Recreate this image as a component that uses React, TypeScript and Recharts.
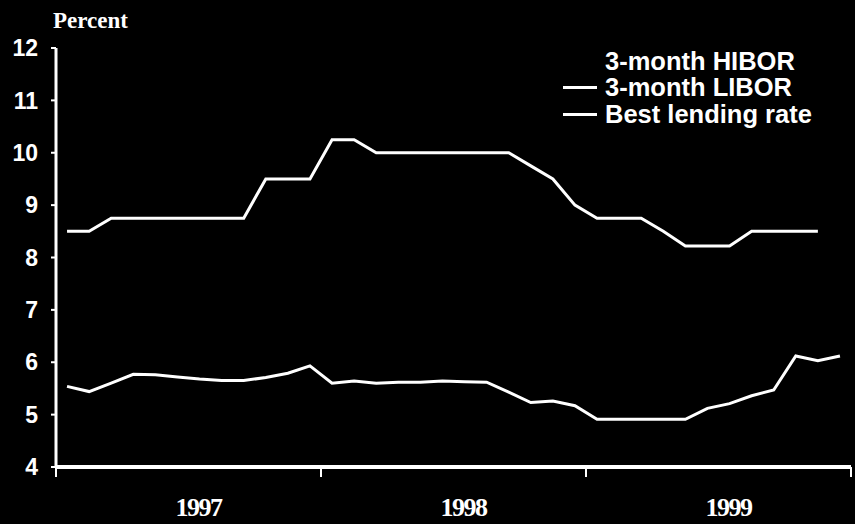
import React from 'react';
import { LineChart, Line, XAxis, YAxis } from 'recharts';

// monthly, Jan 1997 - Dec 1999
const months = [
  'Jan-97', 'Feb-97', 'Mar-97', 'Apr-97', 'May-97', 'Jun-97', 'Jul-97', 'Aug-97', 'Sep-97', 'Oct-97', 'Nov-97', 'Dec-97',
  'Jan-98', 'Feb-98', 'Mar-98', 'Apr-98', 'May-98', 'Jun-98', 'Jul-98', 'Aug-98', 'Sep-98', 'Oct-98', 'Nov-98', 'Dec-98',
  'Jan-99', 'Feb-99', 'Mar-99', 'Apr-99', 'May-99', 'Jun-99', 'Jul-99', 'Aug-99', 'Sep-99', 'Oct-99', 'Nov-99', 'Dec-99',
];

const bestLending = [
  8.5, 8.5, 8.75, 8.75, 8.75, 8.75, 8.75, 8.75, 8.75, 9.5, 9.5, 9.5,
  10.25, 10.25, 10.0, 10.0, 10.0, 10.0, 10.0, 10.0, 10.0, 9.75, 9.5, 9.0,
  8.75, 8.75, 8.75, 8.5, 8.22, 8.22, 8.22, 8.5, 8.5, 8.5, 8.5, null,
];

const libor = [
  5.54, 5.44, 5.6, 5.77, 5.76, 5.72, 5.68, 5.65, 5.65, 5.71, 5.79, 5.93,
  5.6, 5.64, 5.6, 5.62, 5.62, 5.64, 5.63, 5.62, 5.43, 5.23, 5.26, 5.17,
  4.91, 4.91, 4.91, 4.91, 4.91, 5.12, 5.21, 5.36, 5.47, 6.12, 6.03, 6.12,
];

const years = ['1997', '1998', '1999'];
const yTicks = [4, 5, 6, 7, 8, 9, 10, 11, 12];
const xTicks = [0, 6, 12, 18, 24, 30, 36];

const legendItems = [
  { name: '3-month HIBOR', line: false },
  { name: '3-month LIBOR', line: true },
  { name: 'Best lending rate', line: true },
];

const data = months.map((m, i) => ({
  month: m,
  t: i + 0.5,
  lending: bestLending[i],
  libor: libor[i],
}));

const YearTick = (props: any) => {
  const { x, y, payload } = props;
  const v = payload.value as number;
  if (v % 12 === 0) {
    return <line x1={x} x2={x} y1={y} y2={y + 10} stroke="#fff" strokeWidth={2} />;
  }
  return (
    <text
      x={x + 10}
      y={y + 49}
      textAnchor="middle"
      fill="#fff"
      fontFamily="'Liberation Serif', serif"
      fontWeight="bold"
      fontSize={26}
      letterSpacing={-1.5}
    >
      {years[(v - 6) / 12]}
    </text>
  );
};

export default function App() {
  return (
    <div style={{ position: 'absolute', left: 0, top: 0, width: 855, height: 524, background: '#000' }}>
      <LineChart width={855} height={524} data={data} margin={{ top: 48, right: 4, left: 0, bottom: 0 }}>
        <XAxis
          dataKey="t"
          type="number"
          domain={[0, 36]}
          ticks={xTicks}
          interval={0}
          height={57}
          axisLine={{ stroke: '#fff', strokeWidth: 4 }}
          tickLine={false}
          tickSize={0}
          tickMargin={0}
          tick={<YearTick />}
        />
        <YAxis
          domain={[4, 12]}
          ticks={yTicks}
          interval={0}
          width={56}
          axisLine={{ stroke: '#fff', strokeWidth: 3 }}
          tickLine={{ stroke: '#fff', strokeWidth: 2 }}
          tickSize={5}
          tickMargin={13}
          tick={{ fill: '#fff', fontFamily: "'Liberation Sans', Arial, sans-serif", fontWeight: 'bold', fontSize: 23 }}
          label={{
            content: () => (
              <text x={53} y={28} fill="#fff" fontFamily="'Liberation Serif', serif" fontWeight="bold" fontSize={23}>
                Percent
              </text>
            ),
          }}
        />
        <Line type="linear" dataKey="lending" name="Best lending rate" stroke="#fff" strokeWidth={3} dot={false} isAnimationActive={false} />
        <Line type="linear" dataKey="libor" name="3-month LIBOR" stroke="#fff" strokeWidth={3} dot={false} isAnimationActive={false} />
      </LineChart>
      <div
        style={{
          position: 'absolute',
          left: 563,
          top: 48,
          fontFamily: "'Liberation Sans', Arial, sans-serif",
          fontWeight: 'bold',
          fontSize: 25.5,
          color: '#fff',
        }}
      >
        {legendItems.map((it) => (
          <div key={it.name} style={{ display: 'flex', alignItems: 'center', height: 26.5 }}>
            <div style={{ width: 34, height: 3, background: it.line ? '#fff' : 'transparent', marginRight: 8 }} />
            <span style={{ whiteSpace: 'nowrap' }}>{it.name}</span>
          </div>
        ))}
      </div>
    </div>
  );
}
